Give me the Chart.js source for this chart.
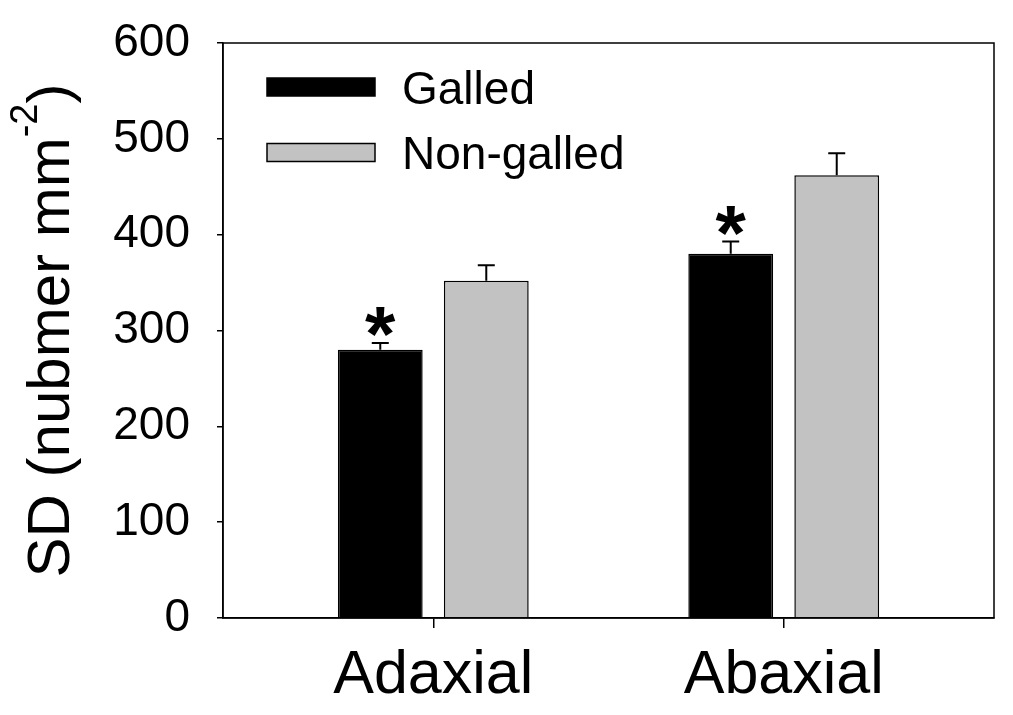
<!DOCTYPE html>
<html>
<head>
<meta charset="utf-8">
<script src="https://cdn.jsdelivr.net/npm/chart.js@4"></script>
<style>
  html, body { margin: 0; padding: 0; background: #fff; }
  #wrap { width: 1013px; height: 715px; position: relative; }
</style>
</head>
<body>
<div id="wrap"><canvas id="sdChart"></canvas></div>
<script>
// chart values
const categories = ["Adaxial", "Abaxial"];
const categoryPos = [1, 2];
const seriesNames = ["Galled", "Non-galled"];
const galled = [280, 380];
const galledErr = [7, 13];
const nonGalled = [352, 462];
const nonGalledErr = [16, 23];
const galledMarks = ["*", "*"];
const yTicks = [0, 100, 200, 300, 400, 500, 600];

const FONT = "'Liberation Sans', Arial, Helvetica, sans-serif";
const GREY = "#c2c2c2";

function points(vals) {
  return vals.map((v, i) => ({ x: categoryPos[i], y: v }));
}

// box round the plot, error bars, asterisks, legend, y title
const extras = {
  id: "extras",
  afterDatasetsDraw(chart) {
    const ctx = chart.ctx;
    const y = chart.scales.y;
    const errs = [galledErr, nonGalledErr];
    ctx.save();
    ctx.strokeStyle = "#000";
    ctx.lineWidth = 2;
    chart.data.datasets.forEach((ds, di) => {
      const meta = chart.getDatasetMeta(di);
      meta.data.forEach((bar, j) => {
        const top = y.getPixelForValue(ds.data[j].y + errs[di][j]);
        ctx.beginPath();
        ctx.moveTo(bar.x, bar.y);
        ctx.lineTo(bar.x, top);
        ctx.moveTo(bar.x - 8.5, top);
        ctx.lineTo(bar.x + 8.5, top);
        ctx.stroke();
        if (di === 0 && galledMarks[j]) {
          ctx.fillStyle = "#000";
          ctx.font = "bold 78px " + FONT;
          ctx.textAlign = "center";
          ctx.textBaseline = "alphabetic";
          ctx.fillText(galledMarks[j], bar.x, top - 12 + 0.39 * 78);
        }
      });
    });
    ctx.restore();
  },
  afterDraw(chart) {
    const ctx = chart.ctx;
    const a = chart.chartArea;
    ctx.save();
    ctx.strokeStyle = "#000";
    ctx.lineWidth = 1.5;
    ctx.strokeRect(a.left, a.top, a.right - a.left, a.bottom - a.top);

    // legend
    const fills = [ "#000", GREY ];
    const rows = [a.top + 44, a.top + 109.5];
    seriesNames.forEach((name, i) => {
      const x0 = a.left + 44;
      const cy = rows[i];
      ctx.fillStyle = fills[i];
      ctx.fillRect(x0, cy - 9, 108, 18);
      ctx.strokeStyle = "#000";
      ctx.lineWidth = 1.5;
      ctx.strokeRect(x0, cy - 9, 108, 18);
      ctx.fillStyle = "#000";
      ctx.font = "46px " + FONT;
      ctx.textAlign = "left";
      ctx.textBaseline = "alphabetic";
      ctx.fillText(name, x0 + 135, cy + 16.5);
    });

    // y axis title with superscript
    const main = "SD (nubmer mm";
    const sup = "-2";
    const close = ")";
    ctx.translate(69, (a.top + a.bottom) / 2);
    ctx.rotate(-Math.PI / 2);
    ctx.font = "60px " + FONT;
    const w1 = ctx.measureText(main).width;
    const w3 = ctx.measureText(close).width;
    ctx.font = "38px " + FONT;
    const w2 = ctx.measureText(sup).width;
    let x = -(w1 + w2 + w3) / 2;
    ctx.fillStyle = "#000";
    ctx.textAlign = "left";
    ctx.textBaseline = "alphabetic";
    ctx.font = "60px " + FONT;
    ctx.fillText(main, x, 0);
    x += w1;
    ctx.font = "38px " + FONT;
    ctx.fillText(sup, x, -32);
    x += w2;
    ctx.font = "60px " + FONT;
    ctx.fillText(close, x, 0);
    ctx.restore();
  }
};

new Chart(document.getElementById("sdChart"), {
  type: "bar",
  data: {
    datasets: [
      {
        label: seriesNames[0],
        data: points(galled),
        backgroundColor: "#000",
        borderColor: "#000",
        borderWidth: 1.5
      },
      {
        label: seriesNames[1],
        data: points(nonGalled),
        backgroundColor: GREY,
        borderColor: "#000",
        borderWidth: 1.5
      }
    ]
  },
  options: {
    responsive: true,
    maintainAspectRatio: false,
    animation: false,
    devicePixelRatio: 1,
    categoryPercentage: 0.605,
    barPercentage: 0.8,
    layout: { padding: { top: 43, right: 19, left: 0, bottom: 0 } },
    plugins: {
      legend: { display: false },
      tooltip: { enabled: false }
    },
    scales: {
      x: {
        type: "linear",
        min: 0.4,
        max: 2.6,
        offset: false,
        afterBuildTicks: (s) => { s.ticks = categoryPos.map(v => ({ value: v })); },
        afterFit: (s) => { s.height = 97; s.paddingLeft = 0; s.paddingRight = 0; },
        ticks: {
          color: "#000",
          font: { family: FONT, size: 61 },
          padding: 12,
          maxRotation: 0,
          autoSkip: false,
          callback: (v) => categories[categoryPos.indexOf(v)] || ""
        },
        grid: {
          offset: false,
          drawOnChartArea: false,
          tickLength: 10,
          tickColor: "#000",
          lineWidth: 1.5
        },
        border: { color: "#000", width: 1.5 }
      },
      y: {
        min: 0,
        max: 600,
        afterBuildTicks: (s) => { s.ticks = yTicks.map(v => ({ value: v })); },
        afterFit: (s) => { s.width = 223; s.paddingTop = 0; s.paddingBottom = 0; },
        ticks: {
          color: "#000",
          font: { family: FONT, size: 46 },
          padding: 27
        },
        grid: {
          drawOnChartArea: false,
          tickLength: 6,
          tickColor: "#000",
          lineWidth: 1.5
        },
        border: { color: "#000", width: 1.5 }
      }
    }
  },
  plugins: [extras]
});
</script>
</body>
</html>
